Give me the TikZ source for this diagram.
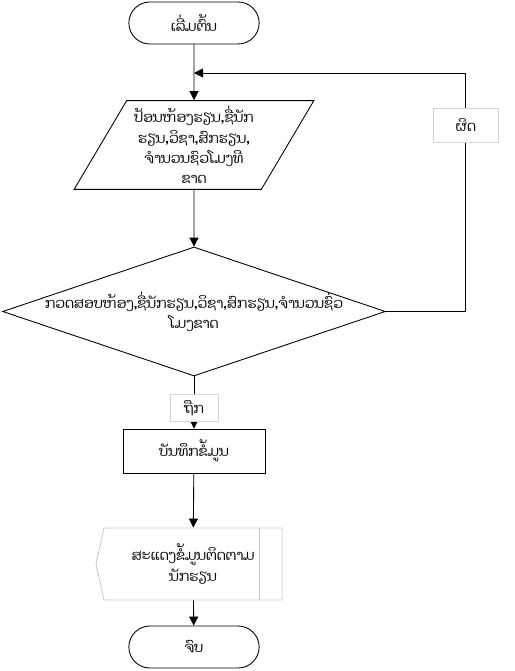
\documentclass[tikz,border=0pt]{standalone}
\usepackage{fontspec}
\newfontfamily\laofont[Script=Lao]{Dhyana}
\usetikzlibrary{shapes.geometric,shapes.misc,shapes.symbols,arrows.meta}
\definecolor{edgegray}{RGB}{200,200,200}
\definecolor{boxgray}{RGB}{212,212,212}

\begin{document}
\begin{tikzpicture}[x=0.02cm,y=-0.02cm,line width=0.5pt,
        font=\laofont\fontsize{8}{11.5}\selectfont,
        >={Triangle[length=1.8mm,width=1.8mm]}]
        \tikzstyle{terminal}=[rounded rectangle,draw,minimum width=2.84cm,minimum height=0.84cm]
        \tikzstyle{io}=[trapezium,trapezium left angle=60,trapezium right angle=120,
                trapezium stretches=true,draw,minimum width=4.8cm,minimum height=1.72cm,align=center]
        \tikzstyle{decision}=[diamond,draw,minimum width=7.66cm,minimum height=2.58cm,inner sep=0pt]
        \tikzstyle{process}=[rectangle,draw,minimum width=2.84cm,minimum height=0.88cm]
        \tikzstyle{display}=[signal,signal to=west,signal pointer angle=155,draw=edgegray,
                minimum width=3.72cm,minimum height=1.44cm,align=center,
                path picture={\draw[edgegray]
                        ([xshift=-0.46cm]path picture bounding box.north east) --
                        ([xshift=-0.46cm]path picture bounding box.south east);}]
        \tikzstyle{tag}=[rectangle,draw=boxgray,fill=white,line width=0.5pt]

        \useasboundingbox (0,0) rectangle (514,671);

        \node[terminal] (T01) at (194,23)    {ເລີ່ມຕົ້ນ};
        \node[io]       (I01) at (194,145)   {ປ້ອນຫ້ອງຮຽນ,ຊື່ນັກ\\ຮຽນ,ວິຊາ,ສົກຮຽນ,\\ຈຳນວນຊົວໂມງທີ\\ຂາດ};
        \node[decision,label={[align=center]center:ກວດສອບຫ້ອງ,ຊື່ນັກຮຽນ,ວິຊາ,ສົກຮຽນ,ຈຳນວນຊົ່ວ\\ໂມງຂາດ}]
                        (D01) at (194,311.5) { };
        \node[process]  (P01) at (194,451)   {ບັນທຶກຂໍ້ມູນ};
        \node[display]  (O01) at (193,564)   {ສະແດງຂໍ້ມູນຕິດຕາມ\\ນັກຮຽນ};
        \node[terminal] (T02) at (194,647)   {ຈົບ};
        \coordinate     (J01) at (194,73);   % loop back

        \path[->] (T01) edge (I01)
                  (I01) edge (D01)
                  (D01) edge node[tag,pos=0.6,minimum width=0.96cm,minimum height=0.48cm] {ຖືກ} (P01)
                  (P01) edge (O01)
                  (O01) edge (T02);
        \draw[->] (D01.east) -- ++(80,0)
                  |- node[tag,pos=0.39,minimum width=1.3cm,minimum height=0.68cm] {ຜິດ} (J01);
\end{tikzpicture}
\end{document}
